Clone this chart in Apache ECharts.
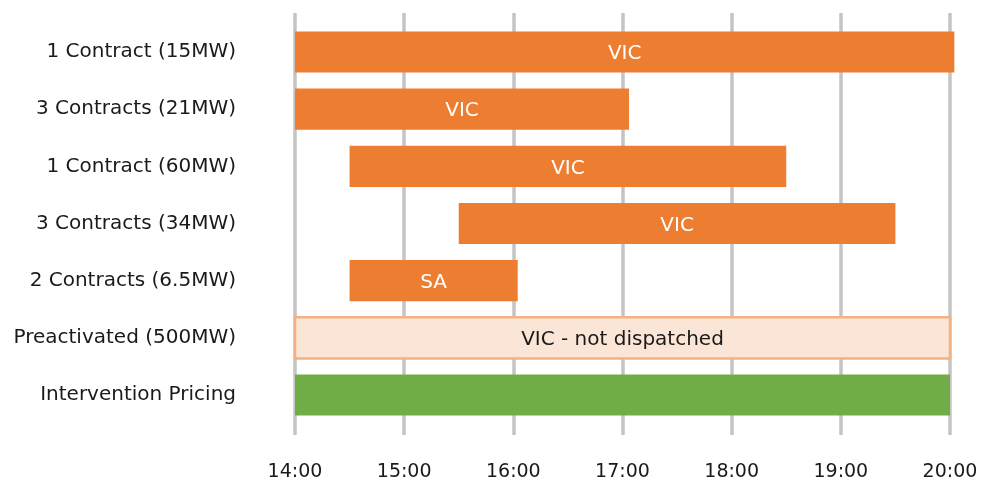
<!DOCTYPE html>
<html>
<head>
<meta charset="utf-8">
<script src="https://cdn.jsdelivr.net/npm/echarts@6/dist/echarts.min.js"></script>
<style>
  html, body { margin: 0; padding: 0; background: #fff; }
  #chart { width: 981px; height: 482px; }
</style>
</head>
<body>
<div id="chart"></div>
<script>
// Dispatch windows per contract group (hours of day, decimal)
const rows = [
  '1 Contract (15MW)',
  '3 Contracts (21MW)',
  '1 Contract (60MW)',
  '3 Contracts (34MW)',
  '2 Contracts (6.5MW)',
  'Preactivated (500MW)',
  'Intervention Pricing'
];
const starts = [14, 14, 14.5, 15.5, 14.5, 14, 14];
const ends = [20.04, 17.06, 18.5, 19.5, 16.04, 20, 20];
const barLabels = ['VIC', 'VIC', 'VIC', 'VIC', 'SA', 'VIC - not dispatched', ''];
const kinds = ['contract', 'contract', 'contract', 'contract', 'contract', 'preactivated', 'pricing'];
const hourTicks = [14, 15, 16, 17, 18, 19, 20];

const FONT = '"DejaVu Sans", Verdana, sans-serif';

const kindStyle = {
  contract:     { fill: '#ED7D31', stroke: null, lineWidth: 0, text: '#ffffff' },
  preactivated: { fill: '#FBE5D6', stroke: '#F4B183', lineWidth: 2.5, text: '#1a1a1a' },
  pricing:      { fill: '#70AD47', stroke: null, lineWidth: 0, text: '#ffffff' }
};

const data = rows.map((r, i) => [i, starts[i], ends[i], barLabels[i], kinds[i]]);

const chart = echarts.init(document.getElementById('chart'), null, { renderer: 'canvas' });

chart.setOption({
  animation: false,
  backgroundColor: '#ffffff',
  grid: [
    // bar area
    { left: 295, right: 31, top: 23.4, bottom: 58.4 },
    // hour grid lines (taller than the bar area)
    { left: 295, right: 31, top: 13, bottom: 47 }
  ],
  xAxis: [
    {
      gridIndex: 0, type: 'value', min: 14, max: 20, interval: 1,
      show: false
    },
    {
      gridIndex: 1, type: 'value', min: hourTicks[0], max: hourTicks[hourTicks.length - 1], interval: 1,
      axisLine: { show: false },
      axisTick: { show: false },
      splitLine: { show: true, lineStyle: { color: '#C4C4C4', width: 3.5 } },
      axisLabel: {
        margin: 28,
        fontFamily: FONT, fontSize: 19, color: '#1a1a1a',
        formatter: v => Math.round(v) + ':00'
      }
    }
  ],
  yAxis: [
    {
      gridIndex: 0, type: 'category', data: rows, inverse: true,
      axisLine: { show: false },
      axisTick: { show: false },
      splitLine: { show: false },
      axisLabel: {
        margin: 59, fontFamily: FONT, fontSize: 20, color: '#1a1a1a',
        padding: [4, 0, 0, 0]
      }
    },
    {
      gridIndex: 1, type: 'value', show: false, min: 0, max: 1
    }
  ],
  series: [
    {
      type: 'custom',
      xAxisIndex: 0,
      yAxisIndex: 0,
      encode: { x: [1, 2], y: 0 },
      data: data,
      renderItem: function (params, api) {
        const row = api.value(0);
        const s = api.coord([api.value(1), row]);
        const e = api.coord([api.value(2), row]);
        const h = api.size([0, 1])[1] * 0.72;
        const st = kindStyle[data[params.dataIndex][4]];
        const label = data[params.dataIndex][3];
        return {
          type: 'rect',
          shape: {
            x: s[0],
            y: s[1] - h / 2,
            width: e[0] - s[0],
            height: h
          },
          style: {
            fill: st.fill,
            stroke: st.stroke,
            lineWidth: st.lineWidth
          },
          textContent: label ? {
            style: {
              text: label,
              fill: st.text,
              font: '20px ' + FONT
            }
          } : undefined,
          textConfig: { position: 'inside', offset: [0, 2] }
        };
      }
    }
  ]
});
</script>
</body>
</html>
